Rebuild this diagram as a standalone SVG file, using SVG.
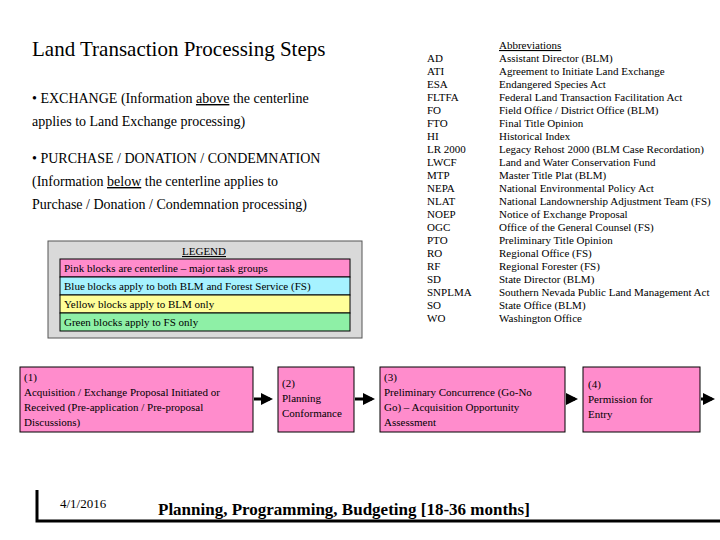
<svg xmlns="http://www.w3.org/2000/svg" width="720" height="540" viewBox="0 0 720 540" font-family="'Liberation Serif', 'Times New Roman', Tinos, serif">
<style>
text,tspan{font-family:'Liberation Serif','Times New Roman',Tinos,serif;fill:#000}
.s{font-size:11px}
.b{font-size:11px}
.n{fill:#ff8ccc;stroke:#000;stroke-width:1}
.lg{stroke:#000;stroke-width:1}
</style>
<defs><marker id="a" markerWidth="4" markerHeight="4" refX="3" refY="2" orient="auto"><path d="M0,0L4,2L0,4z" fill="#000"/></marker></defs>
<rect width="720" height="540" fill="#fff"/>
<text x="32" y="56" font-size="21">Land Transaction Processing Steps</text>
<text x="32" y="103" font-size="14">• EXCHANGE (Information <tspan text-decoration="underline">above</tspan> the centerline</text>
<text x="32" y="126" font-size="14">applies to Land Exchange processing)</text>
<text x="32" y="163" font-size="14">• PURCHASE / DONATION / CONDEMNATION</text>
<text x="32" y="186" font-size="14">(Information <tspan text-decoration="underline">below</tspan> the centerline applies to</text>
<text x="32" y="209" font-size="14">Purchase / Donation / Condemnation processing)</text>
<g id="legend">
<rect x="48" y="241" width="314" height="97" fill="#d9d9d9" stroke="#555"/>
<text x="204" y="255" class="s" text-anchor="middle" text-decoration="underline">LEGEND</text>
<rect x="60" y="259" width="290" height="18" fill="#ff8ccc" class="lg"/>
<rect x="60" y="277" width="290" height="18" fill="#a6f2ff" class="lg"/>
<rect x="60" y="295" width="290" height="18" fill="#ffff99" class="lg"/>
<rect x="60" y="313" width="290" height="18" fill="#8ef0a6" class="lg"/>
<text x="64" y="272" class="s">Pink blocks are centerline – major task groups</text>
<text x="64" y="290" class="s">Blue blocks apply to both BLM and Forest Service (FS)</text>
<text x="64" y="308" class="s">Yellow blocks apply to BLM only</text>
<text x="64" y="326" class="s">Green blocks apply to FS only</text>
</g>
<g id="abbr" class="s">
<text x="499" y="49" text-decoration="underline">Abbreviations</text>
<text x="427" y="62">AD</text><text x="499" y="62">Assistant Director (BLM)</text>
<text x="427" y="75">ATI</text><text x="499" y="75">Agreement to Initiate Land Exchange</text>
<text x="427" y="88">ESA</text><text x="499" y="88">Endangered Species Act</text>
<text x="427" y="101">FLTFA</text><text x="499" y="101">Federal Land Transaction Facilitation Act</text>
<text x="427" y="114">FO</text><text x="499" y="114">Field Office / District Office (BLM)</text>
<text x="427" y="127">FTO</text><text x="499" y="127">Final Title Opinion</text>
<text x="427" y="140">HI</text><text x="499" y="140">Historical Index</text>
<text x="427" y="153">LR 2000</text><text x="499" y="153">Legacy Rehost 2000 (BLM Case Recordation)</text>
<text x="427" y="166">LWCF</text><text x="499" y="166">Land and Water Conservation Fund</text>
<text x="427" y="179">MTP</text><text x="499" y="179">Master Title Plat (BLM)</text>
<text x="427" y="192">NEPA</text><text x="499" y="192">National Environmental Policy Act</text>
<text x="427" y="205">NLAT</text><text x="499" y="205">National Landownership Adjustment Team (FS)</text>
<text x="427" y="218">NOEP</text><text x="499" y="218">Notice of Exchange Proposal</text>
<text x="427" y="231">OGC</text><text x="499" y="231">Office of the General Counsel (FS)</text>
<text x="427" y="244">PTO</text><text x="499" y="244">Preliminary Title Opinion</text>
<text x="427" y="257">RO</text><text x="499" y="257">Regional Office (FS)</text>
<text x="427" y="270">RF</text><text x="499" y="270">Regional Forester (FS)</text>
<text x="427" y="283">SD</text><text x="499" y="283">State Director (BLM)</text>
<text x="427" y="296">SNPLMA</text><text x="499" y="296">Southern Nevada Public Land Management Act</text>
<text x="427" y="309">SO</text><text x="499" y="309">State Office (BLM)</text>
<text x="427" y="322">WO</text><text x="499" y="322">Washington Office</text>
</g>
<g id="n1"><rect class="n" x="20" y="367" width="233" height="65"/>
<text class="b" x="24" y="381">(1)</text><text class="b" x="24" y="396">Acquisition / Exchange Proposal Initiated or</text><text class="b" x="24" y="411">Received (Pre-application / Pre-proposal</text><text class="b" x="24" y="426">Discussions)</text></g>
<g id="n2"><rect class="n" x="278" y="367" width="76" height="65"/>
<text class="b" x="282" y="387">(2)</text><text class="b" x="282" y="402">Planning</text><text class="b" x="282" y="417">Conformance</text></g>
<g id="n3"><rect class="n" x="380" y="367" width="185" height="65"/>
<text class="b" x="384" y="381">(3)</text><text class="b" x="384" y="396">Preliminary Concurrence (Go-No</text><text class="b" x="384" y="411">Go) – Acquisition Opportunity</text><text class="b" x="384" y="426">Assessment</text></g>
<g id="n4"><rect class="n" x="583" y="367" width="117" height="65"/>
<text class="b" x="588" y="388">(4)</text><text class="b" x="588" y="403">Permission  for</text><text class="b" x="588" y="418">Entry</text></g>
<g id="connectors" stroke="#000" stroke-width="3" marker-end="url(#a)">
<line x1="254" y1="399" x2="270" y2="399"/>
<line x1="355" y1="399" x2="372" y2="399"/>
<line x1="566" y1="399" x2="575" y2="399"/>
<line x1="701" y1="399" x2="712" y2="399"/>
</g>
<path d="M37,490V521H720" fill="none" stroke="#000" stroke-width="3"/>
<text x="60" y="508" font-size="13">4/1/2016</text>
<text x="158" y="515" font-size="17" font-weight="bold">Planning, Programming, Budgeting [18-36 months]</text>
</svg>
